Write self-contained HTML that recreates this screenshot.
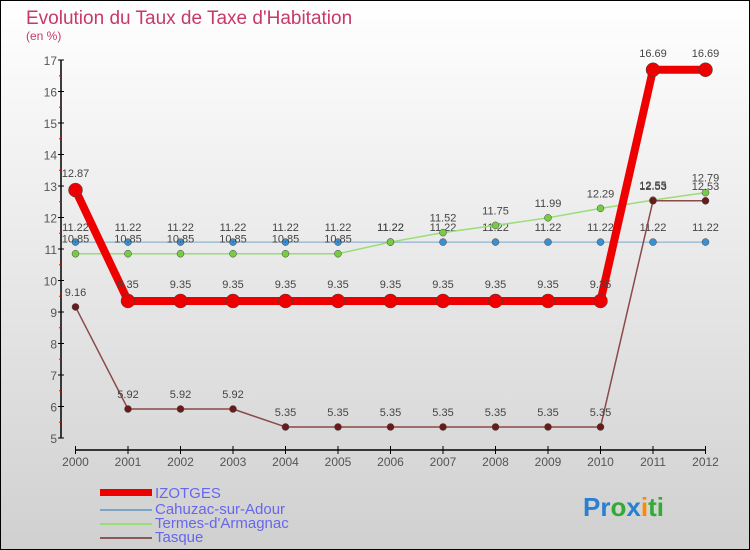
<!DOCTYPE html>
<html><head><meta charset="utf-8"><style>
body{margin:0}
svg{display:block;font-family:"Liberation Sans",sans-serif}
</style></head><body>
<svg id="c" width="750" height="550" viewBox="0 0 750 550">
<defs><linearGradient id="bg" x1="0" y1="0" x2="0" y2="1"><stop offset="0" stop-color="#ffffff"/><stop offset="1" stop-color="#d0d0d0"/></linearGradient></defs>
<rect x="0.5" y="0.5" width="749" height="549" fill="url(#bg)" stroke="#000"/>
<text x="26" y="24" font-size="19" fill="#c8386a">Evolution du Taux de Taxe d'Habitation</text>
<text x="26" y="40" font-size="12" fill="#c8386a">(en %)</text>
<g id="axes"></g><g id="series"></g>
<g>
<rect x="100" y="489" width="52" height="7" fill="#e00"/>
<text x="155" y="498" font-size="15" fill="#6666ee">IZOTGES</text>
<line x1="100" y1="510" x2="152" y2="510" stroke="#7aa6c8" stroke-width="2"/>
<text x="155" y="514" font-size="15" fill="#6666ee">Cahuzac-sur-Adour</text>
<line x1="100" y1="524" x2="152" y2="524" stroke="#99dd77" stroke-width="2"/>
<text x="155" y="528" font-size="15" fill="#6666ee">Termes-d'Armagnac</text>
<line x1="100" y1="538" x2="152" y2="538" stroke="#8a5a5a" stroke-width="2"/>
<text x="155" y="542" font-size="15" fill="#6666ee">Tasque</text>
</g>
<text x="583" y="516" font-size="26" font-weight="bold"><tspan fill="#2a7fd0">Pr</tspan><tspan fill="#33aa33">o</tspan><tspan fill="#2a7fd0">x</tspan><tspan fill="#ff8800">i</tspan><tspan fill="#33aa33">ti</tspan></text>
</svg>
<script>
const years=[2000,2001,2002,2003,2004,2005,2006,2007,2008,2009,2010,2011,2012];
const yTicks=[5,6,7,8,9,10,11,12,13,14,15,16,17];
const izotges=[12.87,9.35,9.35,9.35,9.35,9.35,9.35,9.35,9.35,9.35,9.35,16.69,16.69];
const cahuzac=[11.22,11.22,11.22,11.22,11.22,11.22,11.22,11.22,11.22,11.22,11.22,11.22,11.22];
const termes=[10.85,10.85,10.85,10.85,10.85,10.85,11.22,11.52,11.75,11.99,12.29,12.55,12.79];
const tasque=[9.16,5.92,5.92,5.92,5.35,5.35,5.35,5.35,5.35,5.35,5.35,12.53,12.53];
const NS='http://www.w3.org/2000/svg';
const X=y=>75.5+(y-2000)*(705.5-75.5)/12;
const Y=v=>438-(v-5)*(438-60)/12;
function mk(tag,attrs,parent){const e=document.createElementNS(NS,tag);for(const k in attrs)e.setAttribute(k,attrs[k]);parent.appendChild(e);return e;}
const ax=document.getElementById('axes'),sr=document.getElementById('series');
let a=mk('line',{x1:61,y1:60,x2:61,y2:438,stroke:'#000','stroke-width':1.5},ax);


a=mk('line',{x1:75.5,y1:450,x2:705.5,y2:450,stroke:'#000','stroke-width':1.5},ax);


yTicks.forEach(v=>{mk('line',{x1:58,y1:Y(v),x2:64,y2:Y(v),stroke:'#000'},ax);
 if(v<17)mk('line',{x1:59,y1:Y(v+0.5),x2:61,y2:Y(v+0.5),stroke:'#f00'},ax);
 const t=mk('text',{x:57,y:Y(v)+5,'font-size':12,fill:'#555','text-anchor':'end'},ax);t.textContent=v;
 
 });
years.forEach(y=>{mk('line',{x1:X(y),y1:446,x2:X(y),y2:454,stroke:'#000'},ax);
 const t=mk('text',{x:X(y),y:466,'font-size':12,fill:'#555','text-anchor':'middle'},ax);t.textContent=y;
 
 });
function series(data,color,width,r,dot,name,lblOff){
 const g=mk('g',{},sr);
 
 
 mk('polyline',{points:data.map((v,i)=>X(years[i])+','+Y(v)).join(' '),fill:'none',stroke:color,'stroke-width':width,'stroke-linejoin':'round'},g);
 data.forEach((v,i)=>{const c=mk('circle',{cx:X(years[i]),cy:Y(v),r:r,fill:dot,stroke:'#444','stroke-width':0.5},g);
  
  
  const t=mk('text',{x:X(years[i]),y:Y(v)+lblOff,'font-size':11,fill:'#444','text-anchor':'middle'},g);t.textContent=v;});
}
series(cahuzac,'#7aa6c8',1,3.5,'#3a8fd0','cahuzac-line',-11);
series(termes,'#99dd77',1.5,3.5,'#77cc44','termes-line',-11);
series(izotges,'#ee0000',8,7,'#ee0000','izotges-line',-13);
series(tasque,'#8a4a4a',1.5,3.5,'#6a1a1a','tasque-line',-11);
</script>
</body></html>
